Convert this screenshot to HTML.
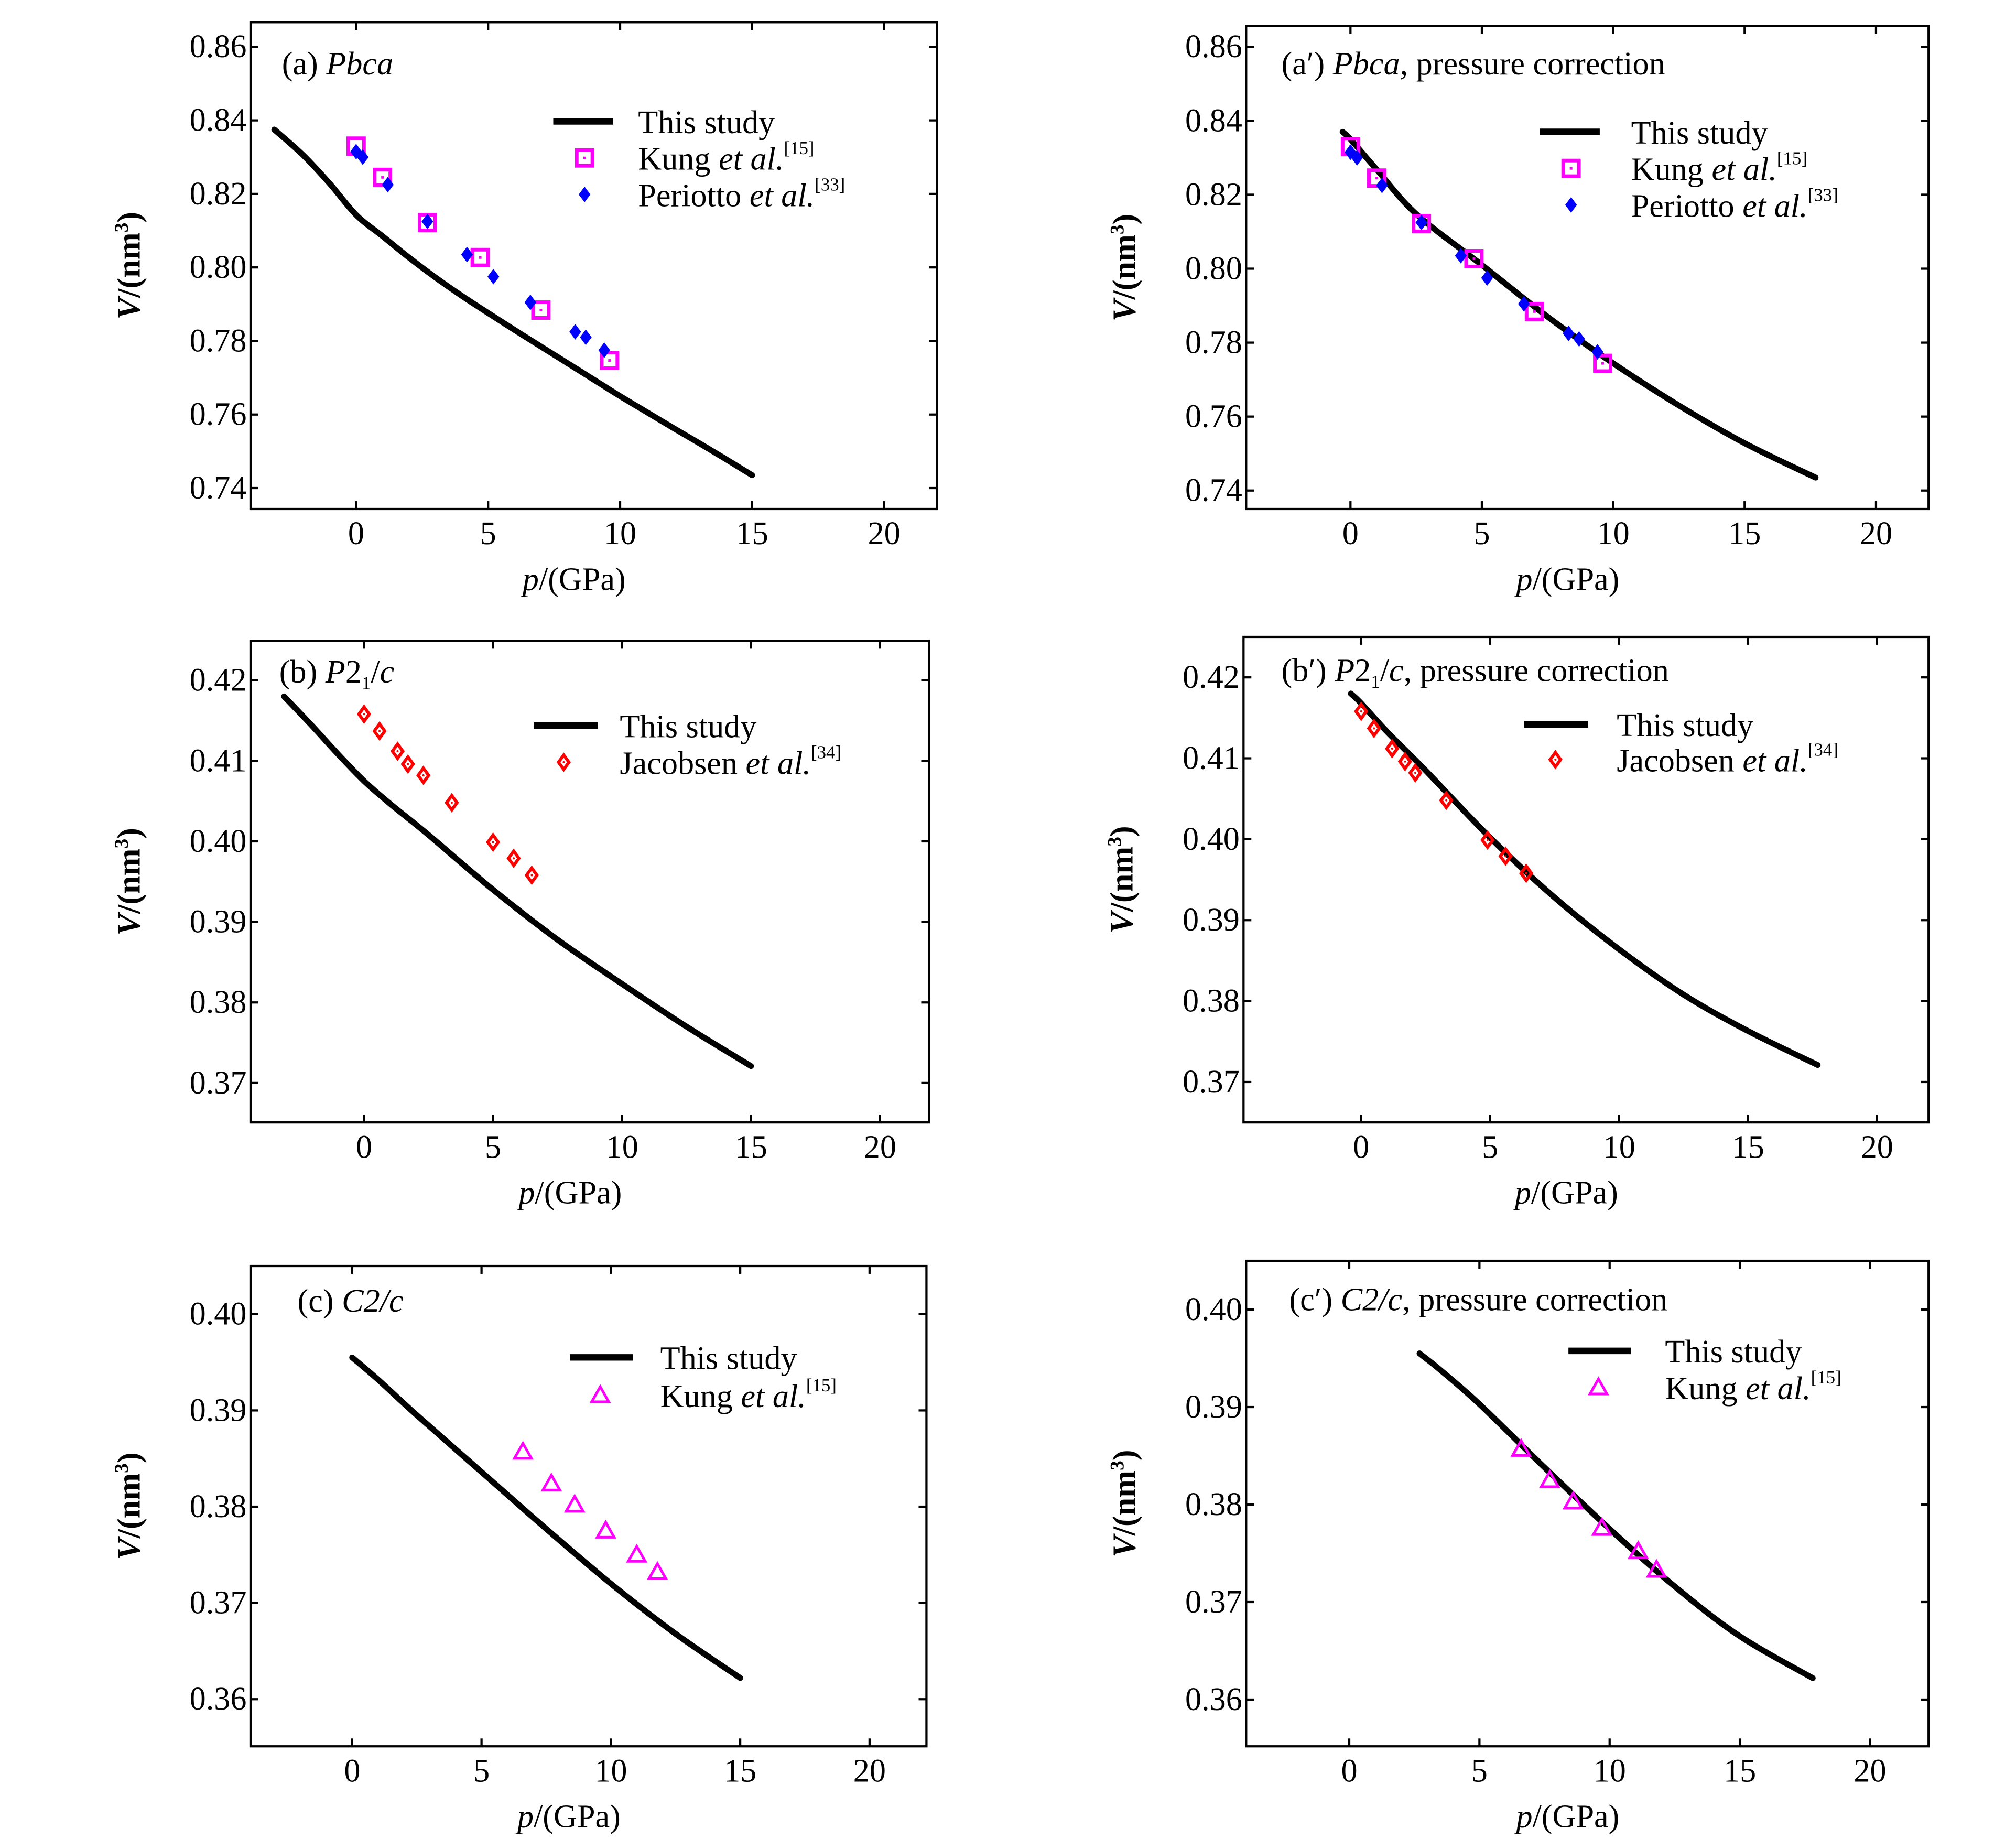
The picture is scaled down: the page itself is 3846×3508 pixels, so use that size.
<!DOCTYPE html>
<html><head><meta charset="utf-8">
<style>
html,body{margin:0;padding:0;background:#fff;}
svg{display:block;}
svg text{font-family:"Liberation Serif","DejaVu Serif",serif;fill:#000;}
</style></head>
<body>
<svg id="fig" xmlns="http://www.w3.org/2000/svg" width="3846" height="3508" viewBox="0 0 1545 1409" preserveAspectRatio="none" font-family="Liberation Serif, serif"></svg>
<script>
// ---- data ----
const xTicks = [0,5,10,15,20];
const yTicksA = [0.74,0.76,0.78,0.80,0.82,0.84,0.86];
const yTicksB = [0.37,0.38,0.39,0.40,0.41,0.42];
const yTicksC = [0.36,0.37,0.38,0.39,0.40];

const curveA_p = [-3.1,-2,-1,0,1,2,3,4,5,6,7,8,9,10,11,12,13,14,15];
const curveA_v = [0.8375,0.8305,0.8228,0.8143,0.8085,0.8027,0.7973,0.7923,0.7876,0.783,0.7785,0.774,0.7695,0.7650,0.7607,0.7564,0.7522,0.7479,0.7435];
const kungA_p = [0,1,2.7,4.7,7,9.6];
const kungA_v = [0.833,0.8245,0.8122,0.8027,0.7884,0.7747];
const periA_p = [0,0.25,1.2,2.7,4.2,5.2,6.6,8.3,8.7,9.4];
const periA_v = [0.8315,0.830,0.8225,0.8125,0.8035,0.7975,0.7905,0.7825,0.781,0.7775];

const curveA2_p = [-0.3,0,1,2.5,5,7.5,10,12.5,15,17.7];
const curveA2_v = [0.837,0.835,0.8268,0.8148,0.801,0.7870,0.7744,0.7630,0.7528,0.7435];
const kungA2_p = [0,1,2.7,4.7,7,9.6];
const kungA2_v = [0.833,0.8245,0.8122,0.8027,0.7884,0.7744];
const periA2_p = [0,0.25,1.2,2.7,4.2,5.2,6.6,8.3,8.7,9.4];
const periA2_v = [0.8315,0.830,0.8225,0.8125,0.8035,0.7975,0.7905,0.7825,0.781,0.7775];

const curveB_p = [-3.1,-2,-1,0,1,2.5,5,7.5,10,12.5,15];
const curveB_v = [0.418,0.4143,0.4108,0.4075,0.4047,0.4008,0.3940,0.3878,0.3823,0.3770,0.3721];
const jacB_p = [0,0.6,1.3,1.7,2.3,3.4,5,5.8,6.5];
const jacB_v = [0.4158,0.4137,0.4112,0.4096,0.4082,0.4048,0.3999,0.3979,0.3958];

const curveB2_p = [-0.4,0,1,2.5,5,7.5,10,12.5,15,17.7];
const curveB2_v = [0.418,0.4168,0.4133,0.4085,0.4002,0.3928,0.3864,0.3808,0.3763,0.3721];
const jacB2_p = [0,0.5,1.2,1.7,2.1,3.3,4.9,5.6,6.4];
const jacB2_v = [0.4158,0.4137,0.4112,0.4096,0.4082,0.4048,0.3999,0.3979,0.3958];

const curveC_p = [0,1,2.5,5,7.5,10,12.5,15];
const curveC_v = [0.3955,0.3932,0.3895,0.3836,0.3777,0.3720,0.3668,0.3622];
const kungC_p = [6.6,7.7,8.6,9.8,11,11.8];
const kungC_v = [0.3857,0.3824,0.3802,0.3775,0.375,0.3732];

const curveC2_p = [2.7,3.5,5,7.5,10,12.5,15,17.8];
const curveC2_v = [0.3955,0.3938,0.3903,0.3838,0.3775,0.3716,0.3665,0.3622];
const kungC2_p = [6.6,7.7,8.6,9.7,11.1,11.8];
const kungC2_v = [0.3857,0.3825,0.3803,0.3776,0.3752,0.3733];

// ---- drawing ----
const NS = "http://www.w3.org/2000/svg";
const svg = document.getElementById('fig');
function mk(tag, attrs, parent){
  const e = document.createElementNS(NS, tag);
  for (const k in attrs) e.setAttribute(k, attrs[k]);
  (parent||svg).appendChild(e);
  return e;
}
const FS = 25;

const panels = [
 {id:'a', L:192,R:718,T:17,B:390, x0:-4, x1:22, y0:0.7343, y1:0.8667, yt:yTicksA, dec:2,
  title:['(a) ','Pbca',''], tx:216, ty:57,
  curve:[curveA_p,curveA_v], sets:[['kung',kungA_p,kungA_v],['peri',periA_p,periA_v]],
  leg:{lx1:424,lx2:470,ly:93,tx:489,mx:448,dy:28}},
 {id:'a-prime', L:955,R:1478,T:20,B:390, x0:-3.97, x1:22, y0:0.735, y1:0.8656, yt:yTicksA, dec:2,
  title:['(a\u2032) ','Pbca',', pressure correction'], tx:982, ty:57,
  curve:[curveA2_p,curveA2_v], sets:[['kung',kungA2_p,kungA2_v],['peri',periA2_p,periA2_v]],
  leg:{lx1:1180,lx2:1226,ly:101,tx:1250,mx:1204,dy:28}},
 {id:'b', L:192,R:712,T:491,B:860, x0:-4.4, x1:21.9, y0:0.3651, y1:0.4249, yt:yTicksB, dec:2,
  title:['(b) ','P2\u2081/c',''], tx:214, ty:523,
  curve:[curveB_p,curveB_v], sets:[['jac',jacB_p,jacB_v]],
  leg:{lx1:409,lx2:458,ly:556,tx:475,mx:432,dy:28}},
 {id:'b-prime', L:953,R:1478,T:488,B:860, x0:-4.56, x1:22.0, y0:0.365, y1:0.425, yt:yTicksB, dec:2,
  title:['(b\u2032) ','P2\u2081/c',', pressure correction'], tx:982, ty:522,
  curve:[curveB2_p,curveB2_v], sets:[['jac',jacB2_p,jacB2_v]],
  leg:{lx1:1168,lx2:1217,ly:555,tx:1239,mx:1192,dy:27}},
 {id:'c', L:192,R:710,T:970,B:1338, x0:-3.93, x1:22.2, y0:0.3551, y1:0.405, yt:yTicksC, dec:2,
  title:['(c) ','C2/c',''], tx:228, ty:1005,
  curve:[curveC_p,curveC_v], sets:[['tri',kungC_p,kungC_v]],
  leg:{lx1:437,lx2:485,ly:1040,tx:506,mx:460,dy:29}},
 {id:'c-prime', L:955,R:1478,T:966,B:1338, x0:-3.96, x1:22.25, y0:0.3552, y1:0.405, yt:yTicksC, dec:2,
  title:['(c\u2032) ','C2/c',', pressure correction'], tx:988, ty:1004,
  curve:[curveC2_p,curveC2_v], sets:[['tri',kungC2_p,kungC2_v]],
  leg:{lx1:1202,lx2:1250,ly:1035,tx:1276,mx:1225,dy:28}}
];

const legendText = {
  kung:['Kung ','et al.','[15]'],
  peri:['Periotto ','et al.','[33]'],
  jac:['Jacobsen ','et al.','[34]'],
  tri:['Kung ','et al.','[15]']
};

function marker(kind, x, y, g){
  let m;
  if (kind==='kung'){
    m = mk('g',{},g);
    mk('rect',{x:x-6,y:y-6,width:12,height:12,fill:'none',stroke:'#ff00ff','stroke-width':2.8},m);
    mk('rect',{x:x-1,y:y-1,width:2,height:2,fill:'#ff00ff'},m);
  } else if (kind==='peri'){
    m = mk('path',{d:`M${x},${y-6}L${x+4.5},${y}L${x},${y+6}L${x-4.5},${y}Z`,fill:'#0000ff'},g);
  } else if (kind==='jac'){
    m = mk('g',{},g);
    mk('path',{d:`M${x},${y-5.5}L${x+4},${y}L${x},${y+5.5}L${x-4},${y}Z`,fill:'none',stroke:'#ff0000','stroke-width':2.4},m);
    mk('circle',{cx:x,cy:y,r:0.8,fill:'#ff0000'},m);
  } else {
    m = mk('path',{d:`M${x},${y-6.5}L${x+6.5},${y+5}L${x-6.5},${y+5}Z`,fill:'none',stroke:'#ff00ff','stroke-width':2},g);
  }
  return m;
}

function smoothPath(pts){
  let d = 'M'+pts[0][0].toFixed(2)+','+pts[0][1].toFixed(2);
  for (let i=0;i<pts.length-1;i++){
    const p0 = pts[Math.max(0,i-1)], p1 = pts[i], p2 = pts[i+1], p3 = pts[Math.min(pts.length-1,i+2)];
    const c1x = p1[0]+(p2[0]-p0[0])/6, c1y = p1[1]+(p2[1]-p0[1])/6;
    const c2x = p2[0]-(p3[0]-p1[0])/6, c2y = p2[1]-(p3[1]-p1[1])/6;
    d += 'C'+c1x.toFixed(2)+','+c1y.toFixed(2)+' '+c2x.toFixed(2)+','+c2y.toFixed(2)+' '+p2[0].toFixed(2)+','+p2[1].toFixed(2);
  }
  return d;
}

panels.forEach(P=>{
  const g = mk('g',{});
  
  
  const sx = v => P.L + (v-P.x0)/(P.x1-P.x0)*(P.R-P.L);
  const sy = v => P.B - (v-P.y0)/(P.y1-P.y0)*(P.B-P.T);
  const frame = mk('rect',{x:P.L,y:P.T,width:P.R-P.L,height:P.B-P.T,fill:'none',stroke:'#000','stroke-width':1.7},g);
  
  
  P.yt.forEach(t=>{
    const y = sy(t);
    mk('line',{x1:P.L,x2:P.L+6,y1:y,y2:y,stroke:'#000','stroke-width':1.7},g);
    mk('line',{x1:P.R-6,x2:P.R,y1:y,y2:y,stroke:'#000','stroke-width':1.7},g);
    const lab = mk('text',{x:P.L-3,y:y+8,'text-anchor':'end','font-size':FS},g);
    lab.textContent = t.toFixed(P.dec);
    
    
  });
  xTicks.forEach(t=>{
    const x = sx(t);
    mk('line',{x1:x,x2:x,y1:P.T,y2:P.T+6,stroke:'#000','stroke-width':1.7},g);
    mk('line',{x1:x,x2:x,y1:P.B-6,y2:P.B,stroke:'#000','stroke-width':1.7},g);
    const lab = mk('text',{x:x,y:P.B+27,'text-anchor':'middle','font-size':FS},g);
    lab.textContent = t;
    
    
  });
  const xt = mk('text',{x:(P.L+P.R)/2 - 15,y:P.B+62,'text-anchor':'middle','font-size':FS},g);
  xt.innerHTML = '<tspan font-style="italic">p</tspan>/(GPa)';
  
  
  const cy = (P.T+P.B)/2;
  const yx = P.L-85;
  const yt = mk('text',{x:yx,y:cy,'text-anchor':'middle','font-size':FS,'font-weight':'bold',transform:`rotate(-90 ${yx} ${cy})`},g);
  yt.innerHTML = '<tspan font-style="italic">V</tspan>/(nm<tspan font-size="15" dy="-9">3</tspan><tspan dy="9">)</tspan>';
  
  
  const tt = mk('text',{x:P.tx,y:P.ty,'font-size':FS},g);
  let ital = P.title[1];
  if (ital.indexOf('\u2081')>=0){
    tt.innerHTML = P.title[0]+'<tspan font-style="italic">P</tspan>2<tspan font-size="14" dy="5">1</tspan><tspan dy="-5">/</tspan><tspan font-style="italic">c</tspan>'+P.title[2];
  } else {
    tt.innerHTML = P.title[0]+'<tspan font-style="italic">'+ital+'</tspan>'+P.title[2];
  }
  
  
  const [cp,cv] = P.curve;
  const pts = cp.map((p,i)=>[sx(p), sy(cv[i])]);
  const line = mk('path',{d:smoothPath(pts),fill:'none',stroke:'#000','stroke-width':4.5,'stroke-linejoin':'round','stroke-linecap':'round'},g);
  
  
  P.sets.forEach(([kind,ps,vs])=>{
    ps.forEach((p,i)=>{
      const m = marker(kind, sx(p), sy(vs[i]), g);
      
      
    });
  });
  const Lg = P.leg;
  const ll = mk('line',{x1:Lg.lx1,x2:Lg.lx2,y1:Lg.ly,y2:Lg.ly,stroke:'#000','stroke-width':5},g);
  
  
  const lt = mk('text',{x:Lg.tx,y:Lg.ly+9,'font-size':FS},g);
  lt.textContent = 'This study';
  
  
  P.sets.forEach(([kind],k)=>{
    const y = Lg.ly + Lg.dy*(k+1);
    const m = marker(kind, Lg.mx, y, g);
    
    
    const t = mk('text',{x:Lg.tx,y:y+9,'font-size':FS},g);
    const lt2 = legendText[kind];
    t.innerHTML = lt2[0]+'<tspan font-style="italic">'+lt2[1]+'</tspan><tspan font-size="14" dy="-12">'+lt2[2]+'</tspan>';
    
    
  });
});
</script>
</body></html>
